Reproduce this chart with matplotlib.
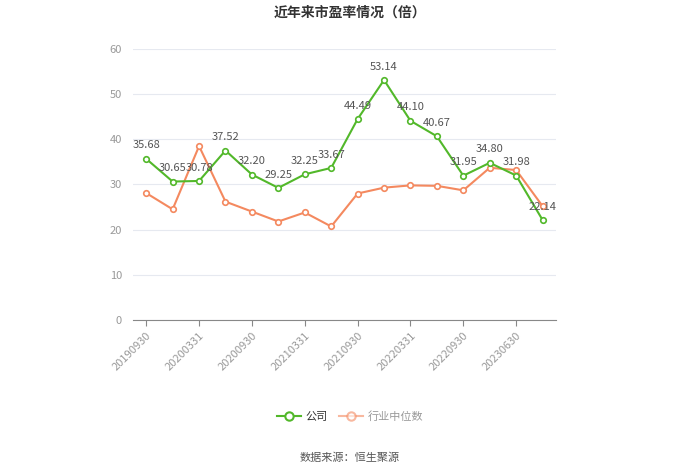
import matplotlib
matplotlib.use("Agg")
import matplotlib.pyplot as plt
from matplotlib.lines import Line2D

plt.rcParams['font.family'] = ['Noto Sans CJK SC', 'DejaVu Sans']

dates = ["20190930", "20191231", "20200331", "20200630", "20200930", "20201231",
         "20210331", "20210630", "20210930", "20211231", "20220331", "20220630",
         "20220930", "20230331", "20230630", "20230930"]
company = [35.68, 30.65, 30.78, 37.52, 32.20, 29.25, 32.25, 33.67,
           44.49, 53.14, 44.10, 40.67, 31.95, 34.80, 31.98, 22.14]
industry = [28.1, 24.5, 38.5, 26.2, 24.0, 21.8, 23.8, 20.7,
            28.0, 29.3, 29.8, 29.7, 28.7, 33.7, 33.2, 25.2]
shown_ticks = ["20190930", "20200331", "20200930", "20210331",
               "20210930", "20220331", "20220930", "20230630"]

green = "#52b82a"
orange = "#f4895f"

fig = plt.figure(figsize=(7, 4.74), dpi=100)
ax = fig.add_axes([0.19, 0.325, 0.604, 0.5716])

x = list(range(len(dates)))
ax.plot(x, industry, color=orange, lw=1.5, marker="o", ms=4,
        mfc="white", mec=orange, mew=1.2, zorder=3)
ax.plot(x, company, color=green, lw=1.5, marker="o", ms=4,
        mfc="white", mec=green, mew=1.2, zorder=4)
for i, v in enumerate(company):
    ax.annotate(f"{v:.2f}", (i, v), xytext=(0, 6), textcoords="offset points",
                ha="center", va="bottom", fontsize=8, color="#555555", zorder=5)

ax.set_xlim(-0.5, len(dates) - 0.5)
ax.set_ylim(0, 60)
ax.set_yticks(range(0, 61, 10))
ax.grid(axis="y", color="#e6e9f0", lw=0.8)
ax.set_axisbelow(True)
tick_pos = [dates.index(d) for d in shown_ticks]
ax.set_xticks(tick_pos)
ax.set_xticklabels(shown_ticks, rotation=45, ha="right", rotation_mode="anchor")
ax.tick_params(axis="x", colors="#999999", labelsize=8, length=4, color="#888888")
ax.tick_params(axis="y", colors="#999999", labelsize=8, length=0, pad=8)
for s in ["top", "right", "left"]:
    ax.spines[s].set_visible(False)
ax.spines["bottom"].set_color("#888888")

fig.text(0.5, 0.974, "近年来市盈率情况（倍）", ha="center", va="center",
         fontsize=10, fontweight="bold", color="#333333")

handles = [Line2D([], [], color=green, lw=1.5, marker="o", ms=6, mfc="white", mec=green, mew=1.5),
           Line2D([], [], color=orange, lw=1.5, marker="o", ms=6, mfc="white", mec=orange, mew=1.5, alpha=0.6)]
leg = fig.legend(handles, ["公司", "行业中位数"], loc="center", bbox_to_anchor=(0.5, 0.122),
                 ncol=2, frameon=False, fontsize=8, handlelength=2.2, columnspacing=1.0,
                 handletextpad=0.4)
leg.get_texts()[0].set_color("#333333")
leg.get_texts()[1].set_color("#999999")

fig.text(0.5, 0.035, "数据来源：恒生聚源", ha="center", va="center",
         fontsize=8, color="#555555")

fig.savefig("out.png", dpi=100)
